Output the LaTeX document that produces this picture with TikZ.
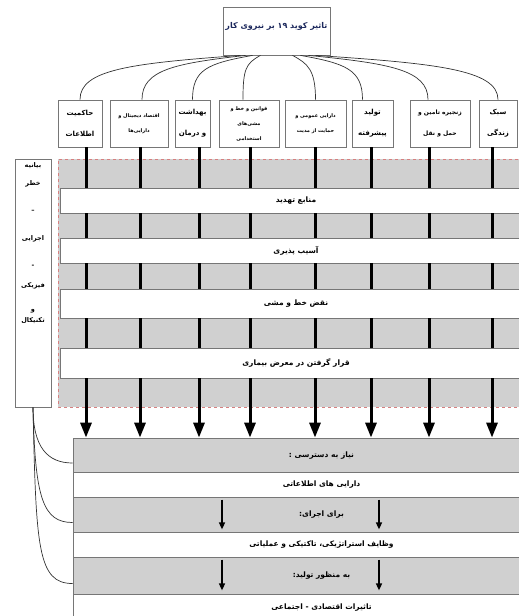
\documentclass[tikz,border=0pt]{standalone}
\usepackage{fontspec}
\usepackage{tikz}
\usetikzlibrary{arrows.meta}
\newfontfamily\fafont[Script=Arabic]{DejaVu Sans}
\TeXXeTstate=1
\newcommand{\fa}[1]{\beginR #1\endR}
\definecolor{bandgrey}{RGB}{208,208,208}
\definecolor{edgegrey}{RGB}{118,118,118}
\definecolor{dashred}{RGB}{214,128,128}
\definecolor{titleblue}{RGB}{28,40,92}

\begin{document}
\begin{tikzpicture}[x=1pt, y=-1pt,
  every node/.style = {draw=edgegrey, line width=0.8pt, align=center, inner sep=0pt},
  titlebox/.style = {minimum width=107pt, minimum height=48pt, text depth=11pt,
    text=titleblue, font=\fafont\bfseries\fontsize{8}{10}\selectfont},
  catbox/.style = {minimum height=47pt, font=\fafont\bfseries\fontsize{7}{21}\selectfont},
  smallcat/.style = {catbox, font=\fafont\bfseries\fontsize{5}{15}\selectfont},
  whiteband/.style = {fill=white, minimum width=472pt, font=\fafont\bfseries\fontsize{7.5}{9}\selectfont},
  stackband/.style = {minimum width=497pt, font=\fafont\bfseries\fontsize{7.5}{9}\selectfont},
  bar/.style = {draw=black, line width=3pt},
  bigarrow/.style = {bar, -{Triangle[width=11pt,length=15pt]}},
  smallarrow/.style = {draw=black, line width=1.5pt, -{Triangle[width=6pt,length=7pt]}},
  link/.style = {draw=black!80, line width=0.7pt}]
  \useasboundingbox (0,0) rectangle (519,616);
  \fill[bandgrey] (58,159) rectangle (530,407);
  \draw[dashred, dashed, line width=0.8pt] (530,159) -| (58,407) -- (530,407);
  \node[titlebox] (title) at (276.5,31) {\fa{تاثیر کوید ۱۹ بر نیروی کار}};
  \node[catbox, minimum width=44pt] (cat1) at (80,123.5) {\fa{حاکمیت}\\\fa{اطلاعات}};
  \node[smallcat, minimum width=58pt] (cat2) at (139,123.5) {\fa{اقتصاد دیجیتال و}\\\fa{دارایی‌ها}};
  \node[catbox, minimum width=35pt] (cat3) at (192.5,123.5) {\fa{بهداشت}\\\fa{و درمان}};
  \node[smallcat, minimum width=60pt] (cat4) at (249,123.5) {\fa{قوانین و خط و}\\\fa{مشی‌های}\\\fa{استخدامی}};
  \node[smallcat, minimum width=61pt] (cat5) at (315.5,123.5) {\fa{دارایی عمومی و}\\\fa{حمایت از مدیت}};
  \node[catbox, minimum width=41pt] (cat6) at (372.5,123.5) {\fa{تولید}\\\fa{پیشرفته}};
  \node[catbox, minimum width=60pt, font=\fafont\bfseries\fontsize{6}{21}\selectfont] (cat7) at (440,123.5) {\fa{زنجیره تامین و}\\\fa{حمل و نقل}};
  \node[catbox, minimum width=38pt] (cat8) at (498,123.5) {\fa{سبک}\\\fa{زندگی}};
  \node[minimum width=36pt, minimum height=248pt] (risk) at (33,283) {};
  \node[draw=none, anchor=north, font=\fafont\bfseries\fontsize{6.5}{18}\selectfont] (risklabel) at ([yshift=-4pt]risk.north)
    {\fa{بیانیه}\\\fa{خطر}\\[9pt]\fa{–}\\[10pt]\fa{اجرایی}\\[9pt]\fa{-}\\[2pt]\fa{فیزیکی}\\[6pt]\fa{و}\\[-7pt]\fa{تکنیکال}};
  \node[whiteband, minimum height=25pt] (threat) at (296,200.5) {\fa{منابع تهدید}};
  \node[whiteband, minimum height=25pt] (vuln) at (296,250.5) {\fa{آسیب پذیری}};
  \node[whiteband, minimum height=29pt] (policy) at (296,303.5) {\fa{نقض خط و مشی}};
  \node[whiteband, minimum height=30pt] (exposure) at (296,363) {\fa{قرار گرفتن در معرض بیماری}};
  \node[stackband, fill=bandgrey, minimum height=34pt, text depth=-2pt] (access) at (321.5,455) {\fa{نیاز به دسترسی :}};
  \node[stackband, fill=white, minimum height=25pt] (assets) at (321.5,484.5) {\fa{دارایی های اطلاعاتی}};
  \node[stackband, fill=bandgrey, minimum height=35pt] (exec) at (321.5,514.5) {\fa{برای اجرای:}};
  \node[stackband, fill=white, minimum height=25pt] (tasks) at (321.5,544.5) {\fa{وظایف استراتژیکی، تاکتیکی و عملیاتی}};
  \node[stackband, fill=bandgrey, minimum height=37pt] (produce) at (321.5,575.5) {\fa{به منظور تولید:}};
  \node[stackband, fill=white, minimum height=28pt] (impact) at (321.5,608) {\fa{تاثیرات اقتصادی - اجتماعی}};
  \foreach \x [count=\i] in {86,140,199,250,315,371,429,492} {
    \draw[bar] (\x,0 |- cat\i.south) -- (\x,0 |- threat.north);
    \draw[bar] (\x,0 |- threat.south) -- (\x,0 |- vuln.north);
    \draw[bar] (\x,0 |- vuln.south) -- (\x,0 |- policy.north);
    \draw[bar] (\x,0 |- policy.south) -- (\x,0 |- exposure.north);
    \draw[bigarrow] (\x,0 |- exposure.south) -- (\x,0 |- access.north);
  }
  \foreach \x in {222,379} {
    \draw[smallarrow, shorten <=3pt, shorten >=3pt] (\x,0 |- exec.north) -- (\x,0 |- exec.south);
    \draw[smallarrow, shorten <=3pt, shorten >=4pt] (\x,0 |- produce.north) -- (\x,0 |- produce.south);
  }
  \foreach \i/\sx/\cx/\ex in {1/-36/-110/0, 2/-31/-70/3, 3/-24/-45/0, 4/-16/-15/-6, 5/16/15/0, 6/24/45/-10, 7/32/80/-12, 8/39/120/0}
    \draw[link] ([xshift=\sx]title.south) .. controls +(\cx,8) and +(0,-30) .. ([xshift=\ex]cat\i.north);
  \draw[link] (risk.south) .. controls +(0,40) and +(-25,0) .. ([yshift=-8pt]access.west);
  \draw[link] (risk.south) .. controls +(2,90) and +(-30,0) .. ([yshift=-8pt]exec.west);
  \draw[link] (risk.south) .. controls +(3,140) and +(-35,0) .. ([yshift=-8pt]produce.west);
\end{tikzpicture}
\end{document}
